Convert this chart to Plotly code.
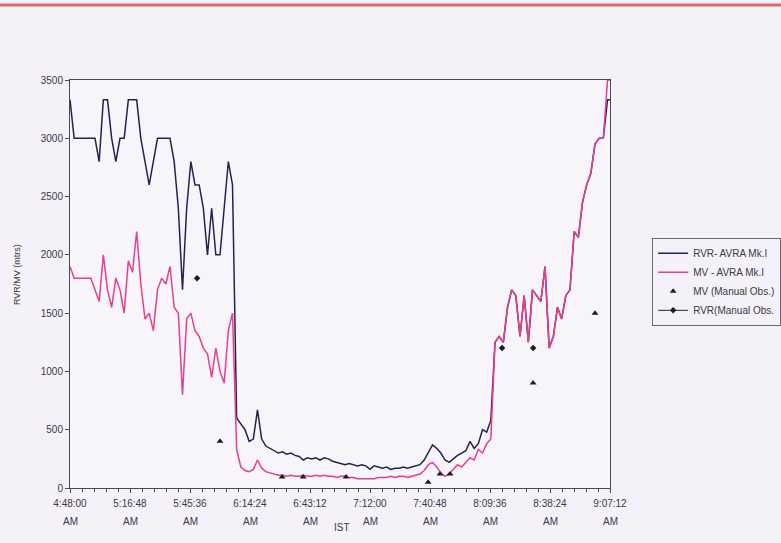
import pandas as pd
import plotly.graph_objects as go

# ---------------- data ----------------
start_time = "2000-01-01 04:48:00"
n_samples = 131  # 2-minute samples from 4:48
times = [t.strftime("%Y-%m-%d %H:%M:%S") for t in pd.date_range(start_time, periods=n_samples, freq="2min")]

rvr_avra = [
    3330, 3000, 3000, 3000, 3000, 3000, 3000, 2800, 3330, 3330,
    3000, 2800, 3000, 3000, 3330, 3330, 3330, 3000, 2800, 2600,
    2800, 3000, 3000, 3000, 3000, 2800, 2400, 1700, 2400, 2800,
    2600, 2600, 2400, 2000, 2400, 2000, 2000, 2400, 2800, 2600,
    600, 550, 500, 400, 420, 670, 420, 360, 340, 320,
    300, 310, 290, 300, 280, 270, 240, 260, 250, 260,
    240, 260, 250, 230, 220, 210, 200, 210, 200, 190,
    200, 190, 160, 190, 180, 170, 180, 160, 170, 170,
    180, 170, 180, 190, 200, 240, 300, 370, 340, 300,
    240, 220, 250, 280, 300, 320, 400, 340, 380, 500,
    480, 580, 1250, 1300, 1250, 1550, 1700, 1650, 1300, 1650,
    1250, 1700, 1650, 1600, 1900, 1200, 1300, 1550, 1450, 1650,
    1700, 2200, 2150, 2450, 2600, 2700, 2950, 3000, 3000, 3330,
    3330,
]

mv_avra = [
    1900, 1800, 1800, 1800, 1800, 1800, 1700, 1600, 2000, 1700,
    1550, 1800, 1700, 1500, 1950, 1850, 2200, 1750, 1450, 1500,
    1350, 1700, 1800, 1750, 1900, 1550, 1500, 800, 1450, 1500,
    1350, 1300, 1200, 1150, 950, 1200, 1000, 900, 1350, 1500,
    330, 180, 150, 140, 160, 240, 170, 140, 130, 120,
    110, 110, 100, 110, 100, 100, 110, 100, 100, 110,
    100, 110, 100, 100, 90, 100, 100, 90, 90, 80,
    80, 80, 80, 80, 90, 90, 90, 100, 90, 100,
    100, 90, 100, 110, 120, 150, 200, 220, 180, 130,
    100, 120, 160, 200, 180, 220, 260, 240, 330, 300,
    380, 420, 1250, 1300, 1250, 1550, 1700, 1650, 1300, 1650,
    1250, 1700, 1650, 1600, 1900, 1200, 1300, 1550, 1450, 1650,
    1700, 2200, 2150, 2450, 2600, 2700, 2950, 3000, 3000, 3500,
    3500,
]

mv_manual_times = ["2000-01-01 06:00:00", "2000-01-01 06:29:48", "2000-01-01 06:39:54",
                   "2000-01-01 07:00:30", "2000-01-01 07:39:54", "2000-01-01 07:45:36",
                   "2000-01-01 07:50:24", "2000-01-01 08:30:18", "2000-01-01 09:00:00"]
mv_manual = [400, 95, 95, 95, 50, 120, 120, 900, 1500]

rvr_manual_times = ["2000-01-01 05:49:00", "2000-01-01 08:15:24", "2000-01-01 08:30:18"]
rvr_manual = [1800, 1200, 1200]

tick_times = ["2000-01-01 04:48:00", "2000-01-01 05:16:48", "2000-01-01 05:45:36",
              "2000-01-01 06:14:24", "2000-01-01 06:43:12", "2000-01-01 07:12:00",
              "2000-01-01 07:40:48", "2000-01-01 08:09:36", "2000-01-01 08:38:24",
              "2000-01-01 09:07:12"]
tick_labels = ["4:48:00", "5:16:48", "5:45:36", "6:14:24", "6:43:12",
               "7:12:00", "7:40:48", "8:09:36", "8:38:24", "9:07:12"]
y_ticks = [0, 500, 1000, 1500, 2000, 2500, 3000, 3500]

# ---------------- figure ----------------
PAPER = "#f4f2f8"
AXIS = "#4a4a55"
TXT = "#3a3a44"

fig = go.Figure()
fig.add_trace(go.Scatter(x=times, y=rvr_avra, mode="lines", name="RVR- AVRA Mk.I",
                         line=dict(color="#23234f", width=1.5)))
fig.add_trace(go.Scatter(x=times, y=mv_avra, mode="lines", name="MV - AVRA Mk.I",
                         line=dict(color="#e63f8e", width=1.5)))
fig.add_trace(go.Scatter(x=mv_manual_times, y=mv_manual, mode="markers", name="MV (Manual Obs.)",
                         marker=dict(symbol="triangle-up", size=6, color="#1c1c28")))
# isolated points separated by gaps: legend shows line+marker, no connecting lines drawn
rx, ry = [], []
for t, v in zip(rvr_manual_times, rvr_manual):
    rx += [t, None]
    ry += [v, None]
fig.add_trace(go.Scatter(x=rx, y=ry, mode="lines+markers", name="RVR(Manual Obs.",
                         connectgaps=False,
                         line=dict(color="#2a2a3a", width=1),
                         marker=dict(symbol="diamond", size=5, color="#1c1c28")))

fig.update_layout(
    width=781, height=543,
    margin=dict(l=70, r=171, t=80, b=55),
    paper_bgcolor=PAPER, plot_bgcolor="#f7f5fa",
    font=dict(family="Liberation Sans, Arial, sans-serif", size=10, color=TXT),
    showlegend=True,
    legend=dict(xref="container", yref="container", x=0.835, y=0.562,
                xanchor="left", yanchor="top",
                bgcolor=PAPER, bordercolor="#6a6a75", borderwidth=1,
                font=dict(size=10, color=TXT), itemwidth=30,
                tracegroupgap=0),
)

fig.update_xaxes(
    type="date",
    range=["2000-01-01 04:48:00", "2000-01-01 09:07:12"],
    tickmode="array", tickvals=tick_times, ticktext=tick_labels,
    showline=True, linecolor=AXIS, linewidth=1, mirror=True,
    ticks="outside", ticklen=4, tickcolor=AXIS, ticklabelstandoff=2,
    minor=dict(dtick=345600, tick0="2000-01-01 04:48:00", ticks="outside", ticklen=3, tickcolor=AXIS),
    showgrid=False, zeroline=False,
    tickfont=dict(size=10, color=TXT),
)
fig.update_yaxes(
    range=[0, 3500], tickmode="array", tickvals=y_ticks,
    ticktext=[str(v) for v in y_ticks],
    showline=True, linecolor=AXIS, linewidth=1, mirror=True,
    ticks="outside", ticklen=4, tickcolor=AXIS,
    showgrid=False, zeroline=False,
    tickfont=dict(size=10, color=TXT),
)

# second line of the time labels
for t in tick_times:
    fig.add_annotation(x=t, y=-0.081, xref="x", yref="paper", text="AM",
                       xanchor="center", yanchor="middle",
                       showarrow=False, font=dict(size=10, color=TXT))

fig.add_annotation(x=0.504, y=-0.098, xref="paper", yref="paper", text="IST",
                   xanchor="center", yanchor="middle",
                   showarrow=False, font=dict(size=10, color=TXT))
fig.add_annotation(x=-0.098, y=0.522, xref="paper", yref="paper", text="RVR/MV (mtrs)",
                   xanchor="center", yanchor="middle",
                   textangle=-90, showarrow=False, font=dict(size=9, color=TXT))

# red rule across the top of the scanned page
fig.add_shape(type="line", xref="paper", yref="paper",
              x0=-0.14, x1=1.33, y0=1.184, y1=1.184,
              line=dict(color="#e26a6a", width=3))

fig.write_html("out.html", config={"displayModeBar": False},
               post_script="document.body.style.margin='0';document.body.style.background='#f4f2f8';")
